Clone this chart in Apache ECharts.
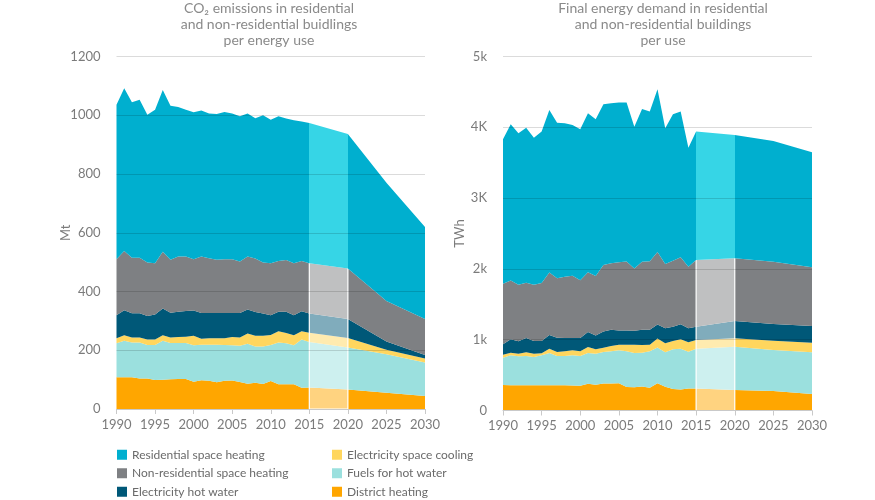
<!DOCTYPE html>
<html>
<head>
<meta charset="utf-8">
<script src="https://cdn.jsdelivr.net/npm/echarts@6/dist/echarts.min.js"></script>
<style>html,body{margin:0;padding:0;background:#fff}#c{width:875px;height:500px}</style>
</head>
<body>
<div id="c"></div>
<script>
// ---- data ----
const years = [1990,1991,1992,1993,1994,1995,1996,1997,1998,1999,2000,2001,2002,2003,2004,2005,2006,2007,2008,2009,2010,2011,2012,2013,2014,2015,2020,2025,2030];
const seriesNames = ['District heating','Fuels for hot water','Electricity space cooling','Electricity hot water','Non-residential space heating','Residential space heating'];

// CO2 emissions (Mt)
const co2District   = [108,108,108,104,104,99,100,101,102,102,93,98,96,91,96,97,92,86,89,85,95,84,84,84,72,73,66,55,44];
const co2Fuels      = [116,124,118,122,114,119,132,124,123,123,124,121,123,128,122,120,123,136,124,128,123,142,140,133,165,155,143,131,114];
const co2Cooling    = [17,19,17,17,19,19,19,18,20,21,32,20,22,22,23,28,28,35,36,36,34,39,35,34,28,32,33,16,14];
const co2ElecHot    = [78,85,83,83,80,85,91,85,86,88,86,88,86,86,86,82,84,82,81,76,67,66,72,68,68,65,64,28,12];
const co2NonRes     = [191,202,189,189,182,174,193,180,188,185,175,192,186,181,183,183,175,180,182,174,177,173,176,177,171,171,172,138,122];
const co2Res        = [526,554,529,538,503,523,551,524,509,500,500,497,493,496,501,496,495,487,478,501,489,493,482,487,475,478,458,402,314];

// Final energy demand (TWh)
const enDistrict    = [360,357,355,355,355,355,355,355,355,352,350,378,365,382,383,385,333,330,340,320,385,335,305,295,310,312,290,275,232];
const enFuels       = [386,422,410,415,401,424,457,415,415,427,420,434,438,444,453,465,503,482,477,516,505,487,559,578,521,561,611,580,590];
const enCooling     = [43,38,38,52,47,31,61,56,66,71,66,85,61,61,75,80,94,118,108,94,126,127,118,132,134,123,118,131,136];
const enElecHot     = [145,188,174,202,178,171,193,202,188,174,188,211,197,230,230,201,201,197,216,211,200,211,202,212,195,188,245,236,235];
const enNonRes      = [855,831,798,781,794,819,884,841,866,879,816,845,839,939,939,963,975,878,959,967,1022,909,932,946,872,942,885,880,829];
const enRes         = [2041,2206,2140,2190,2079,2139,2295,2197,2167,2130,2132,2245,2213,2269,2260,2255,2243,2004,2159,2114,2300,1917,2068,2059,1680,1813,1743,1705,1624];

const yTicksLeft  = ['0','200','400','600','800','1000','1200'];
const yTicksRight = ['0','1k','2k','3K','4K','5k'];
const bandStart = 2015, bandEnd = 2020;

// ---- styles ----
const FONT = 'Lato';
const TXT = '#7b7b7b';
const colors = ['#FFA600','#9BE0DE','#FFD65E','#005878','#7E8083','#00AFCF'];
const bandBlue = '#36D5E6';

const chart = echarts.init(document.getElementById('c'));

function buildSeries(arrs, gi) {
  return arrs.map((vals, i) => {
    const s = {
      name: seriesNames[i],
      type: 'line',
      stack: 'g' + gi,
      xAxisIndex: gi, yAxisIndex: gi,
      symbol: 'none',
      silent: true,
      z: i === 5 ? 4 : 2,
      lineStyle: { width: 0 },
      itemStyle: { color: colors[i] },
      areaStyle: { opacity: 1 },
      // value first so that stacking happens on the value dimension
      encode: { x: 1, y: 0 },
      data: years.map((y, k) => [vals[k], y])
    };
    if (i !== 5) s.areaStyle.color = colors[i];
    if (i === 4) {
      s.markArea = {
        silent: true, z: 3,
        itemStyle: { color: 'rgba(255,255,255,0.5)', borderColor: '#ffffff', borderWidth: 1.2 },
        data: [[{ xAxis: bandStart }, { xAxis: bandEnd }]]
      };
    }
    return s;
  });
}

const series = buildSeries([co2District, co2Fuels, co2Cooling, co2ElecHot, co2NonRes, co2Res], 0)
  .concat(buildSeries([enDistrict, enFuels, enCooling, enElecHot, enNonRes, enRes], 1));

function xAxis(gi) {
  return {
    type: 'value', gridIndex: gi, min: 1990, max: 2030, interval: 5, z: 5,
    axisLine: { show: true, lineStyle: { color: '#c9c9c9', width: 1 } },
    axisTick: { show: true, length: 5, lineStyle: { color: '#c9c9c9' } },
    axisLabel: { color: TXT, fontFamily: FONT, fontSize: 13, margin: 9, formatter: v => String(v) },
    splitLine: { show: false }
  };
}
function yAxis(gi, max, interval, ticks, name, gap) {
  return {
    type: 'value', gridIndex: gi, min: 0, max: max, interval: interval, z: 5,
    name: name, nameLocation: 'middle', nameRotate: 90, nameGap: gap, nameMoveOverlap: false,
    nameTextStyle: { color: TXT, fontFamily: FONT, fontSize: 13 },
    axisLine: { show: false }, axisTick: { show: false },
    axisLabel: { color: TXT, fontFamily: FONT, fontSize: 13, margin: 16,
      formatter: v => ticks[Math.round(v / interval)] },
    splitLine: { show: true, lineStyle: { color: 'rgba(0,0,0,0.14)', width: 1 } }
  };
}

const legendText = { color: '#6a6a6a', fontFamily: FONT, fontSize: 12, lineHeight: 13.5 };
function legend(left, idx) {
  return {
    orient: 'vertical', left: left, top: 448, padding: 0, itemWidth: 10, itemHeight: 10, itemGap: 5,
    icon: 'rect', textStyle: legendText, selectedMode: false,
    data: idx.map(i => ({ name: seriesNames[i], itemStyle: { color: colors[i] } }))
  };
}

const option = {
  animation: false,
  backgroundColor: '#ffffff',
  grid: [
    { left: 116.5, right: 450, top: 56.5, bottom: 91, outerBoundsMode: 'none' },
    { left: 503, right: 63, top: 56.5, bottom: 89.5, outerBoundsMode: 'none' }
  ],
  xAxis: [xAxis(0), xAxis(1)],
  yAxis: [yAxis(0, 1200, 200, yTicksLeft, 'Mt', 44), yAxis(1, 5000, 1000, yTicksRight, 'TWh', 37)],
  visualMap: {
    type: 'piecewise', show: false, seriesIndex: [5, 11], dimension: 1,
    pieces: [
      { lt: bandStart, color: colors[5] },
      { gte: bandStart, lte: bandEnd, color: bandBlue },
      { gt: bandEnd, color: colors[5] }
    ]
  },
  legend: [legend(117, [5, 4, 3]), legend(332, [2, 1, 0])],
  graphic: [
    { type: 'text', x: 269, y: 0, style: { text: 'CO₂ emissions in residential\nand non-residential buidlings\nper energy use',
        textAlign: 'center', textVerticalAlign: 'top', fill: '#8a8a8a', font: '14px Lato', lineHeight: 16 } },
    { type: 'text', x: 663, y: 0, style: { text: 'Final energy demand in residential\nand non-residential buildings\nper use',
        textAlign: 'center', textVerticalAlign: 'top', fill: '#8a8a8a', font: '14px Lato', lineHeight: 16 } }
  ],
  series: series
};
chart.setOption(option);
</script>
</body>
</html>
